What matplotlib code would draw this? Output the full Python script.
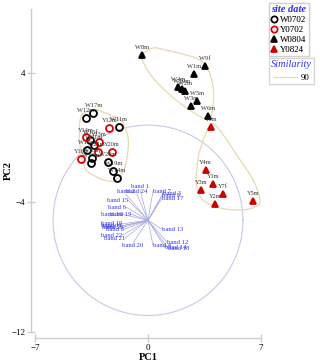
import numpy as np
import matplotlib.pyplot as plt
from matplotlib.lines import Line2D

plt.rcParams['font.family'] = ['Liberation Serif', 'DejaVu Serif']

# sample scores (PC1, PC2) per site date
w0702_lab = ["W17m", "W12m", "W11m", "W15f", "W21m", "W16m", "W18m", "W13m", "W20m", "W19m", "W14m"]
w0702_x = [-3.39, -3.84, -1.82, -3.59, -3.35, -3.78, -3.49, -3.53, -2.49, -2.15, -1.92]
w0702_y = [1.51, 1.24, 0.69, -0.14, -0.45, -0.76, -1.24, -1.58, -1.50, -2.04, -2.51]

y0702_lab = ["Y12m", "Y14m", "Y13m", "Y21m", "Y20m", "Y16m"]
y0702_x = [-2.40, -3.84, -3.02, -3.10, -2.23, -4.13]
y0702_y = [0.58, 0.02, -0.28, -0.86, -0.86, -1.33]

w0804_lab = ["W8m", "W9f", "W1m", "W4m", "W10m", "W2m", "W5m", "W3m", "W6m"]
w0804_x = [-0.37, 3.53, 2.87, 1.88, 2.09, 2.29, 3.05, 2.64, 3.70]
w0804_y = [5.10, 4.45, 3.93, 3.11, 2.99, 2.90, 2.29, 1.96, 1.34]

y0824_lab = ["Y6m", "Y4m", "Y1m", "Y3m", "Y7f", "Y2m", "Y5m"]
y0824_x = [3.90, 3.57, 4.01, 3.28, 4.67, 4.15, 6.52]
y0824_y = [0.64, -2.00, -2.86, -3.23, -3.48, -4.10, -3.89]

# band vectors (relative to vector origin)
bands = ["band 1", "band 24", "band 2", "band 7", "band 3", "band 9", "band 17", "band 15",
         "band 6", "band 16", "band 19", "band 10", "band 11", "band 23", "band 5", "band 8",
         "band 22", "band 21", "band 20", "band 13", "band 4", "band 12", "band 14", "band 18"]
band_dx = [-0.50, -0.68, -1.36, 0.31, 0.93, 0.87, 0.87, -1.24, -1.36, -1.61, -1.05, -1.61,
           -1.61, -1.55, -1.67, -1.49, -1.61, -1.43, -0.93, 0.87, 0.31, 1.18, 1.05, 1.24]
band_dy = [1.91, 1.60, 1.60, 1.79, 1.67, 1.51, 1.36, 1.24, 0.82, 0.37, 0.37, -0.22,
           -0.34, -0.43, -0.37, -0.56, -0.93, -1.11, -1.42, -0.56, -1.54, -1.36, -1.67, -1.73]
vec_origin = (0.0, -5.1)
vec_radius = 5.88

# similarity 90 outlines
sim1_x = [-3.18, -2.35, -1.61, -1.22, -1.42, -1.98, -2.56, -3.28, -3.90, -4.21, -4.21, -3.84]
sim1_y = [1.71, 1.40, 0.97, -0.14, -1.79, -2.61, -2.66, -2.37, -1.88, -0.56, 1.09, 1.59]
sim2_x = [-0.37, 0.31, 1.05, 1.98, 3.02, 3.64, 4.03, 4.03, 3.84, 3.41, 2.40, 1.36, 0.31, -0.31]
sim2_y = [5.12, 5.54, 5.42, 5.21, 4.90, 4.39, 3.15, 1.91, 1.22, 1.22, 1.83, 2.64, 3.69, 4.68]
sim3_x = [3.84, 3.22, 3.02, 3.02, 3.41, 4.46, 5.70, 6.63, 6.94, 6.52, 5.70, 4.88, 4.26]
sim3_y = [0.78, -0.76, -2.00, -3.03, -3.85, -4.34, -4.47, -4.28, -3.85, -2.61, -1.38, -0.14, 0.68]


def closed_curve(xs, ys, n=20):
    # closed Catmull-Rom through the outline points
    p = np.column_stack([xs, ys])
    k = len(p)
    out = []
    t = np.linspace(0, 1, n, endpoint=False)[:, None]
    for i in range(k):
        p0, p1, p2, p3 = p[i - 1], p[i], p[(i + 1) % k], p[(i + 2) % k]
        out.append(0.5 * (2 * p1 + (-p0 + p2) * t + (2 * p0 - 5 * p1 + 4 * p2 - p3) * t ** 2
                          + (-p0 + 3 * p1 - 3 * p2 + p3) * t ** 3))
    out = np.vstack(out + [out[0][:1]])
    return out[:, 0], out[:, 1]


fig = plt.figure(figsize=(3.2, 3.64), dpi=100)
ax = fig.add_axes([35 / 320, 32 / 364, 226 / 320, 322.7 / 364])
ax.set_xlim(-7, 7)
ax.set_ylim(-12, 7.93)

# vector circle and band vectors
th = np.linspace(0, 2 * np.pi, 300)
ax.plot(vec_origin[0] + vec_radius * np.cos(th), vec_origin[1] + vec_radius * np.sin(th),
        color="#c8c8ea", lw=0.8, zorder=1)
for name, dx, dy in zip(bands, band_dx, band_dy):
    x1, y1 = vec_origin[0] + dx, vec_origin[1] + dy
    ax.plot([vec_origin[0], x1], [vec_origin[1], y1], color="#a8a8e0", lw=0.5, zorder=1)
    if dy > 1.55 and dx < 0:
        ha, va = "center", "bottom"
    elif dy < -1.3 and dx < 0:
        ha, va = "center", "top"
    elif dx < 0:
        ha, va = "right", "center"
    else:
        ha, va = "left", "center"
    ax.text(x1, y1, name, color="#3333ee", fontsize=4.8, ha=ha, va=va, zorder=2)

# similarity outlines
for sx, sy in [(sim1_x, sim1_y), (sim2_x, sim2_y), (sim3_x, sim3_y)]:
    cx, cy = closed_curve(sx, sy)
    ax.plot(cx, cy, color="#e8d9b0", lw=0.9, zorder=1)

# samples
groups = [
    (w0702_x, w0702_y, w0702_lab, dict(marker="o", mfc="none", mec="black")),
    (y0702_x, y0702_y, y0702_lab, dict(marker="o", mfc="none", mec="#dd0000")),
    (w0804_x, w0804_y, w0804_lab, dict(marker="^", mfc="black", mec="black")),
    (y0824_x, y0824_y, y0824_lab, dict(marker="^", mfc="#cc0000", mec="#cc0000")),
]
for gx, gy, glab, st in groups:
    ax.plot(gx, gy, ls="none", ms=5, mew=1.3, zorder=3, **st)
    for x, y, t in zip(gx, gy, glab):
        ax.annotate(t, (x, y), xytext=(0, 3.5), textcoords="offset points",
                    ha="center", va="bottom", fontsize=4.6, color="#333333", zorder=4)

# PRIMER style detached axes
for s in ["top", "right"]:
    ax.spines[s].set_visible(False)
ax.spines["left"].set_position(("outward", 3))
ax.spines["bottom"].set_position(("outward", 4.5))
ax.spines["left"].set_bounds(-12, 7.93)
ax.spines["bottom"].set_bounds(-7, 7)
for s in ["left", "bottom"]:
    ax.spines[s].set_color("#cccccc")
    ax.spines[s].set_linewidth(1)
ax.set_xticks([-7, 0, 7])
ax.set_yticks([-12, -4, 4])
ax.tick_params(direction="inout", length=6, width=1, color="#cccccc", labelsize=6.5, pad=1)
ax.set_xlabel("PC1", fontsize=7.5, fontweight="bold", labelpad=1)
ax.set_ylabel("PC2", fontsize=7.5, fontweight="bold", labelpad=-1)

# legends
h1 = [Line2D([], [], ls="none", ms=4.5, mew=1.2, **g[3]) for g in groups]
leg1 = fig.legend(h1, ["W0702", "Y0702", "W0804", "Y0824"], loc="upper left",
                  bbox_to_anchor=(269 / 320, 1 - 2.5 / 364), title="site date",
                  fontsize=6.4, title_fontsize=7.5, frameon=True, fancybox=False,
                  edgecolor="#cccccc", handletextpad=0.3, borderpad=0.25,
                  labelspacing=0.2, handlelength=0.7, borderaxespad=0)
leg1.get_title().set_color("#3333ee")
leg1.get_title().set_style("italic")
leg1.get_title().set_fontweight("bold")

h2 = [Line2D([], [], color="#e8d9b0", lw=0.9)]
leg2 = fig.legend(h2, ["90"], loc="upper left",
                  bbox_to_anchor=(269 / 320, 1 - 58 / 364), title="Similarity",
                  fontsize=6.4, title_fontsize=7.5, frameon=True, fancybox=False,
                  edgecolor="#cccccc", handletextpad=0.5, borderpad=0.25,
                  handlelength=2.6, borderaxespad=0)
leg2.get_title().set_color("#3333ee")
leg2.get_title().set_style("italic")
fig.add_artist(leg1)

fig.savefig("out.png", dpi=100, facecolor="white")
